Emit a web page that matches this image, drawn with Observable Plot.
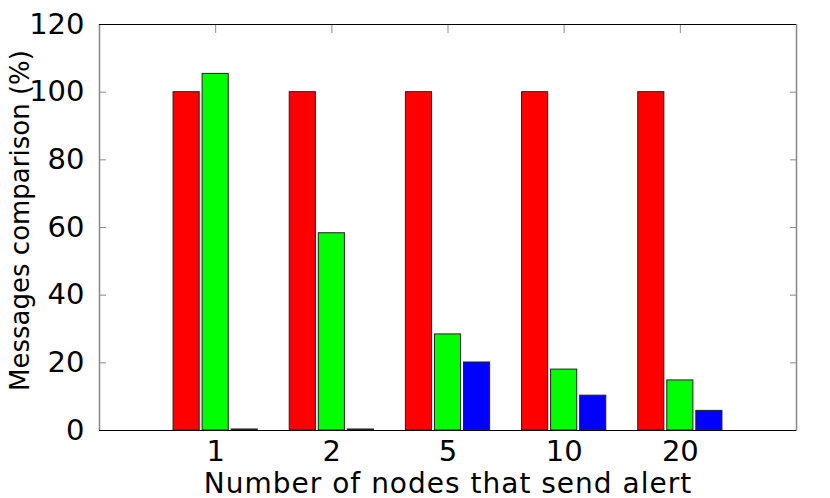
<!DOCTYPE html>
<html><head><meta charset="utf-8">
<script src="https://cdn.jsdelivr.net/npm/d3@7"></script>
<script src="https://cdn.jsdelivr.net/npm/@observablehq/plot@0.6"></script>
<style>body{margin:0;background:#fff} #chart svg{font-family:"DejaVu Sans";color:#000;background:#fff}</style>
</head><body><div id="chart"></div>
<script>
const categories = ["1", "2", "5", "10", "20"];
const seriesNames = ["A", "B", "C"];
const seriesColors = ["#ff0000", "#00ff00", "#0000ff"];
const redValues = [100, 100, 100, 100, 100];
const greenValues = [105.4, 58.3, 28.4, 18.0, 14.8];
const blueValues = [0.3, 0.3, 20.1, 10.3, 5.8];
const yTicks = [0, 20, 40, 60, 80, 100, 120];
const xTitle = "Number of nodes that send alert";
const yTitle = "Messages comparison (%)";

const allSeries = [redValues, greenValues, blueValues];
const slot = 0.25, boxW = 0.225;
const data = [];
categories.forEach((c, i) => {
  allSeries.forEach((vals, s) => {
    const center = i + 1 + (s - 1) * slot;
    data.push({cat: c, series: seriesNames[s], x1: center - boxW / 2, x2: center + boxW / 2, value: vals[i]});
  });
});
const catPos = categories.map((c, i) => i + 1);

const chart = Plot.plot({
  width: 830, height: 498,
  marginLeft: 99, marginRight: 34, marginTop: 24, marginBottom: 68,
  style: {fontFamily: "DejaVu Sans", fontSize: "28px", color: "#000", background: "#fff"},
  x: {type: "linear", domain: [0, 6], axis: null},
  y: {domain: [0, 120], axis: null},
  color: {domain: seriesNames, range: seriesColors},
  marks: [
    Plot.rectY(data, {x1: "x1", x2: "x2", y1: 0, y2: "value", fill: "series", stroke: "#222", strokeWidth: 1}),
    Plot.axisY({ticks: yTicks, anchor: "left", tickSize: -7, tickFormat: () => "", stroke: "#888", label: null}),
    Plot.axisY({ticks: yTicks, anchor: "right", tickSize: -7, tickFormat: () => "", stroke: "#888", label: null}),
    Plot.axisX({ticks: catPos, anchor: "top", tickSize: -8, tickFormat: () => "", stroke: "#888", label: null}),
    Plot.axisY({ticks: yTicks, anchor: "left", tickSize: 0, tickPadding: 15, fontSize: 29, label: null}),
    Plot.axisX({ticks: catPos, anchor: "bottom", tickSize: 0, tickPadding: 10, fontSize: 29, label: null, tickFormat: (d) => categories[d - 1]}),
    Plot.ruleX([0, 6], {stroke: "#888", strokeWidth: 1.5}),
    Plot.ruleY([0, 120], {stroke: "#000", strokeWidth: 1.2}),
    Plot.text([xTitle], {frameAnchor: "bottom", dy: 54, fontSize: 28, lineAnchor: "middle", textAnchor: "middle"}),
    Plot.text([yTitle], {frameAnchor: "left", dx: -79, dy: -7, rotate: -90, fontSize: 26, lineAnchor: "middle", textAnchor: "middle"})
  ]
});
d3.select(chart).selectAll("text").filter(function () { return this.textContent === xTitle; })
  .attr("letter-spacing", "1px");
document.getElementById("chart").appendChild(chart);
</script></body></html>
